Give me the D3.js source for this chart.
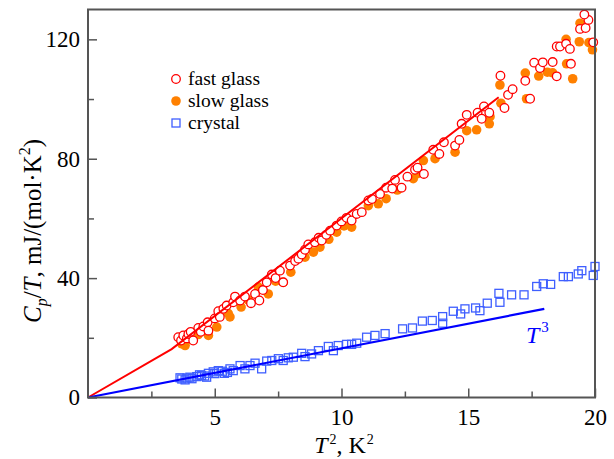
<!DOCTYPE html>
<html><head><meta charset="utf-8">
<script src="https://cdn.jsdelivr.net/npm/d3@7"></script>
<style>body{margin:0;background:#fff}svg{display:block}svg text{font-family:'Liberation Serif','Times New Roman','DejaVu Serif',serif !important}</style>
</head><body><svg id="c" width="614" height="459"></svg>
<script>
// ---- data ----
const xTicks = [5, 10, 15, 20];
const xMinorTicks = [2.5, 7.5, 12.5, 17.5];
const yTicks = [0, 40, 80, 120];
const yMinorTicks = [20, 60, 100];
const legendLabels = ["fast glass", "slow glass", "crystal"];

const fastT2 = [3.56,3.67,3.76,3.9,3.96,4.05,4.15,4.35,4.45,4.55,4.72,4.75,5.0,5.14,5.2,5.34,5.47,5.73,5.8,6.0,6.19,6.43,6.59,6.76,6.9,7.05,7.25,7.4,7.57,7.7,7.97,8.17,8.3,8.43,8.56,8.69,8.95,9.1,9.22,9.4,9.55,9.81,10.0,10.2,10.4,10.6,10.8,11.06,11.2,11.52,11.76,12.0,12.11,12.37,12.6,12.9,13.0,13.25,13.62,13.86,14.04,14.48,14.65,14.74,14.94,15.37,15.53,15.62,15.83,16.27,16.43,16.57,16.75,17.25,17.44,17.6,17.83,17.94,18.33,18.49,18.49,18.62,18.86,19.01,19.05,19.41,19.63,19.74,19.58,19.93];
const fastCp = [20.2,19.1,20.8,19.8,21.3,22.0,19.1,23.3,22.0,23.8,25.2,22.4,26.5,28.9,27.0,29.7,30.8,31.9,33.8,32.5,33.8,31.6,34.7,32.5,36.0,38.6,41.2,40.0,42.5,38.6,44.2,45.7,46.5,47.9,49.5,51.3,52.0,53.5,52.6,54.5,55.9,57.6,59.0,60.2,59.3,61.5,62.1,66.0,66.5,68.2,70.3,70.0,72.9,70.3,74.0,76.3,77.0,74.9,83.0,81.6,85.5,84.4,86.3,91.7,94.7,95.4,93.4,97.5,95.4,107.8,97.0,101.4,103.3,106.1,100.1,112.2,110.4,112.3,112.4,107.6,117.6,117.6,118.5,116.8,111.8,123.5,123.8,126.5,128.3,119.0];

const slowT2 = [3.7,3.83,4.1,4.35,4.75,5.08,5.53,5.6,6.04,6.32,6.72,7.11,7.4,7.7,8.0,8.56,8.89,9.15,9.5,9.81,10.1,10.4,11.06,11.45,11.76,12.2,12.83,13.0,13.23,13.69,14.48,14.94,15.33,15.83,15.86,16.25,16.29,17.25,17.3,17.78,18.12,18.33,18.88,19.12,18.86,19.38,19.41,19.76,19.9];
const slowCp = [18.0,17.4,19.5,21.1,20.8,23.6,28.2,27.0,30.3,32.7,37.0,34.7,39.0,38.6,42.0,47.0,48.7,50.4,53.0,55.4,57.5,57.1,64.3,64.9,66.6,69.5,73.3,75.0,79.4,80.0,82.2,89.4,89.7,91.7,94.1,104.7,98.6,108.7,100.1,107.7,109.0,108.8,111.8,106.8,120.0,119.2,125.4,118.9,116.5];

const crystT2 = [3.63,3.7,3.83,3.9,4.02,4.1,4.29,4.4,4.48,4.6,4.68,4.75,4.94,5.0,5.14,5.3,5.38,5.5,5.6,5.73,6.0,6.19,6.39,6.59,6.85,7.05,7.25,7.51,7.7,7.9,8.1,8.43,8.56,8.82,9.09,9.48,9.68,9.87,10.2,10.4,10.6,10.99,11.32,11.72,12.41,12.8,13.19,13.58,13.99,13.99,14.41,14.7,14.87,15.29,15.46,15.75,16.21,16.25,16.71,17.2,17.7,17.96,18.25,18.75,18.95,19.34,19.48,19.93,20.0];
const crystCp = [6.6,6.2,5.9,6.5,6.8,6.3,7.0,7.6,7.4,7.2,6.8,8.1,8.6,8.0,9.0,8.8,8.1,8.4,9.6,9.0,10.7,9.6,10.7,11.5,9.6,12.2,12.4,13.0,12.4,13.3,13.5,14.8,13.7,14.6,15.7,17.1,15.7,17.4,17.8,17.8,18.2,20.2,20.8,21.4,23.0,23.3,25.6,25.8,27.1,24.9,28.9,28.0,29.7,30.0,29.1,31.6,34.9,31.9,34.4,34.4,37.2,38.1,37.9,40.5,40.5,41.4,42.5,40.9,43.9];

const glassFitT2 = [0, 3.3, 16.2];
const glassFitCp = [0, 16.2, 100.6];
const debyeT2 = [0, 18];
const debyeCp = [0, 29.7];

// ---- layout ----
const svg = d3.select("#c");
const L = 88, R = 595, T = 9.5, B = 397.5;
const x = d3.scaleLinear().domain([0, 20]).range([L, R]);
const y = d3.scaleLinear().domain([0, 130]).range([B, T]);

const RED = "#ff0000", ORANGE = "#ff8000", BLUE_MK = "#3f5fff", BLUE = "#0000ff";
const SERIF = "'Liberation Serif','Times New Roman','DejaVu Serif',serif";

const plot = svg.append("g");
plot.selectAll(".slow").data(slowT2).join("circle")
  .attr("cx", d => x(d)).attr("cy", (d, i) => y(slowCp[i])).attr("r", 4.8)
  .attr("fill", ORANGE);
plot.selectAll(".fast").data(fastT2).join("circle")
  .attr("cx", d => x(d)).attr("cy", (d, i) => y(fastCp[i])).attr("r", 4.3)
  .attr("fill", "#fff").attr("stroke", RED).attr("stroke-width", 1.3);
plot.selectAll(".cr").data(crystT2).join("rect")
  .attr("x", d => x(d) - 4).attr("y", (d, i) => y(crystCp[i]) - 4)
  .attr("width", 8).attr("height", 8)
  .attr("fill", "none").attr("stroke", BLUE_MK).attr("stroke-width", 1.3);

const line = d3.line().x(d => x(d[0])).y(d => y(d[1]));
plot.append("path").datum(glassFitT2.map((d, i) => [d, glassFitCp[i]]))
  .attr("d", line).attr("fill", "none").attr("stroke", RED).attr("stroke-width", 2);
plot.append("path").datum(debyeT2.map((d, i) => [d, debyeCp[i]]))
  .attr("d", line).attr("fill", "none").attr("stroke", BLUE).attr("stroke-width", 2.2);

// ---- axes ----
const AX = "#555";
const gx = svg.append("g").attr("transform", `translate(0,${B})`)
  .call(d3.axisBottom(x).tickValues(xTicks).tickSize(-9).tickPadding(11).tickFormat(d3.format("d")));
const gxm = svg.append("g").attr("transform", `translate(0,${B})`)
  .call(d3.axisBottom(x).tickValues(xMinorTicks).tickSize(-6).tickFormat(""));
const gy = svg.append("g").attr("transform", `translate(${L},0)`)
  .call(d3.axisLeft(y).tickValues(yTicks).tickSize(-9).tickPadding(8).tickFormat(d3.format("d")));
const gym = svg.append("g").attr("transform", `translate(${L},0)`)
  .call(d3.axisLeft(y).tickValues(yMinorTicks).tickSize(-6).tickFormat(""));
[gx, gxm, gy, gym].forEach(g => {
  g.attr("font-family", null).attr("font-size", null);
  g.select(".domain").remove();
  g.selectAll("line").attr("stroke", AX).attr("stroke-width", 1.5);
  g.selectAll("text").style("font-family", SERIF).style("font-size", "23px").attr("fill", "#000");
});
svg.append("rect").attr("x", L).attr("y", T).attr("width", R - L).attr("height", B - T)
  .attr("fill", "none").attr("stroke", AX).attr("stroke-width", 2);

// ---- axis titles ----
const xt = svg.append("text").attr("x", 344).attr("y", 453).attr("text-anchor", "middle")
  .style("font-family", SERIF).style("font-size", "24px");
xt.append("tspan").attr("font-style", "italic").text("T");
xt.append("tspan").attr("dx", 2).attr("dy", -9).style("font-size", "14px").text("2");
xt.append("tspan").attr("dy", 9).text(", K");
xt.append("tspan").attr("dx", 1).attr("dy", -9).style("font-size", "14px").text("2");

const yt = svg.append("text").attr("transform", "translate(41,231) rotate(-90)")
  .attr("text-anchor", "middle").style("font-family", SERIF).style("font-size", "25px");
yt.append("tspan").attr("font-style", "italic").text("C");
yt.append("tspan").attr("dy", 6).style("font-size", "16px").attr("font-style", "italic").text("p");
yt.append("tspan").attr("dy", -6).text("/");
yt.append("tspan").attr("font-style", "italic").text("T");
yt.append("tspan").text(", mJ/(mol·K");
yt.append("tspan").attr("dy", -11).style("font-size", "16px").text("2");
yt.append("tspan").attr("dy", 11).text(")");

const t3 = svg.append("text").attr("x", 526).attr("y", 343)
  .style("font-family", SERIF).style("font-size", "24px").style("fill", BLUE);
t3.append("tspan").attr("font-style", "italic").text("T");
t3.append("tspan").attr("dx", 2).attr("dy", -11).style("font-size", "15px").text("3");

// ---- legend ----
const lg = svg.append("g");
const rowsY = [79, 101, 123];
lg.append("circle").attr("cx", 176).attr("cy", rowsY[0]).attr("r", 4.3).attr("fill", "#fff").attr("stroke", RED).attr("stroke-width", 1.3);
lg.append("circle").attr("cx", 176).attr("cy", rowsY[1]).attr("r", 4.8).attr("fill", ORANGE);
lg.append("rect").attr("x", 172).attr("y", rowsY[2] - 4).attr("width", 8).attr("height", 8).attr("fill", "none").attr("stroke", BLUE_MK).attr("stroke-width", 1.3);
lg.selectAll("text.l").data(legendLabels).join("text")
  .attr("x", 188).attr("y", (d, i) => rowsY[i] + 6)
  .style("font-family", SERIF).style("font-size", "19.5px").text(d => d);
</script></body></html>
